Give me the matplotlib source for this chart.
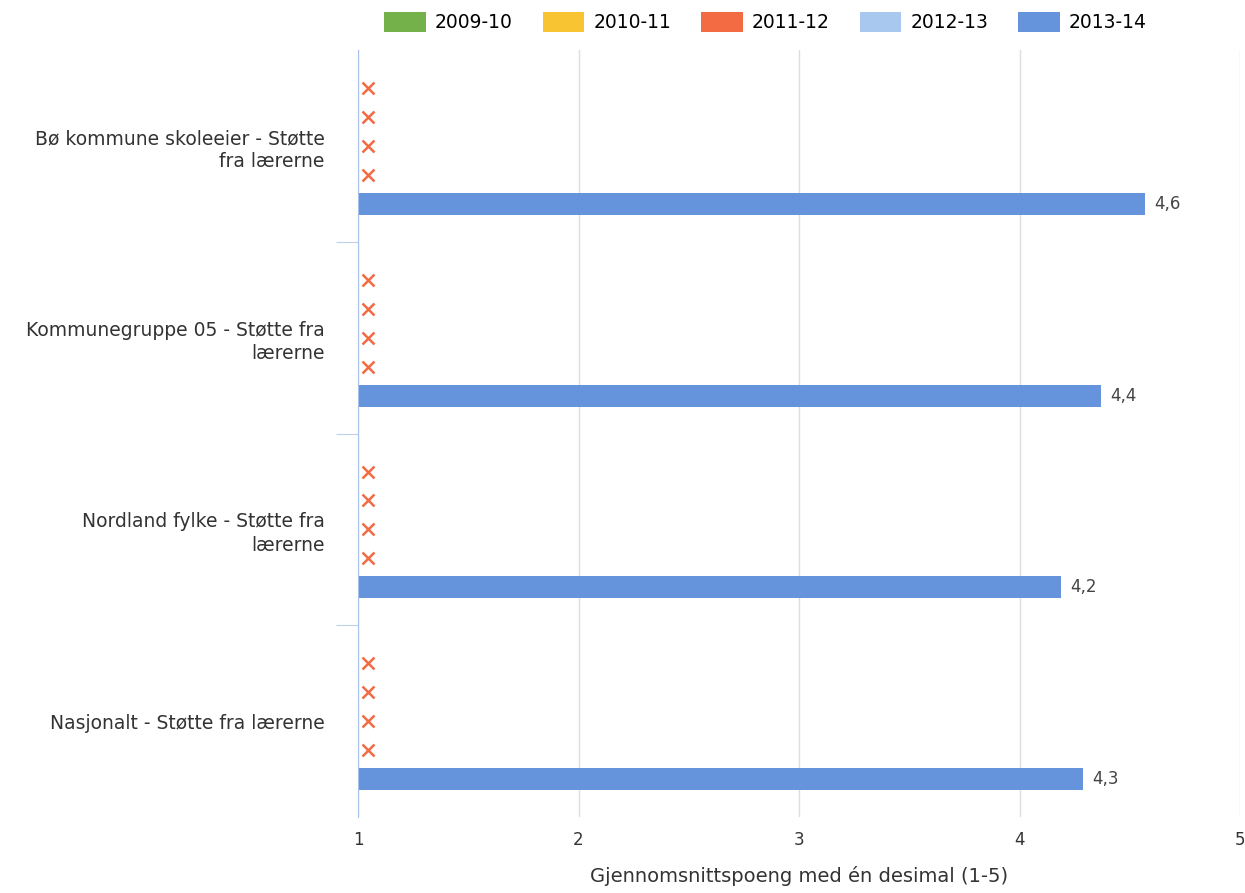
import numpy as np
import matplotlib.pyplot as plt
from matplotlib.patches import Patch

# Data (None = no data for that year)
categories = ['Bø kommune skoleeier - Støtte\nfra lærerne',
              'Kommunegruppe 05 - Støtte fra\nlærerne',
              'Nordland fylke - Støtte fra\nlærerne',
              'Nasjonalt - Støtte fra lærerne']
years = ['2009-10', '2010-11', '2011-12', '2012-13', '2013-14']
v_2009 = [None, None, None, None]
v_2010 = [None, None, None, None]
v_2011 = [None, None, None, None]
v_2012 = [None, None, None, None]
v_2013 = [4.57, 4.37, 4.19, 4.29]
series = [v_2009, v_2010, v_2011, v_2012, v_2013]

colors = ['#74b14a', '#f8c431', '#f26b43', '#a9c8f0', '#6593dc']
missing_color = '#f26b43'

fig = plt.figure(figsize=(12.45, 8.93), dpi=100)
ax = fig.add_axes([0.2876, 0.085, 0.7084, 0.859])

slot = 0.151
bar_h = 0.115
for j, vals in enumerate(series):
    for i, v in enumerate(vals):
        y = i + (j - 2) * slot
        if v is None:
            ax.plot(1.045, y, marker='x', color=missing_color, markersize=8,
                    markeredgewidth=1.8, linestyle='none', zorder=3)
        else:
            ax.barh(y, v - 1, left=1, height=bar_h, color=colors[j], zorder=2)
            ax.text(v + 0.04, y, f'{v:.1f}'.replace('.', ','), va='center',
                    ha='left', fontsize=12, color='#444444')

ax.set_xlim(1, 5)
ax.set_ylim(3.5, -0.5)
ax.set_xticks([1, 2, 3, 4, 5])
ax.set_xticklabels(['1', '2', '3', '4', '5'], fontsize=12, color='#333333')
ax.tick_params(axis='x', length=0, pad=10)
ax.grid(axis='x', color='#dddddd', linewidth=1, zorder=0)

ax.set_yticks([0.5, 1.5, 2.5])
ax.set_yticklabels([])
ax.set_yticks(range(4), minor=True)
ax.set_yticklabels(categories, minor=True, fontsize=13.5, color='#333333',
                   linespacing=1.3)
ax.tick_params(axis='y', which='minor', length=0, pad=24)
ax.tick_params(axis='y', which='major', length=16, color='#c0d0e8')

for s in ['top', 'right', 'bottom']:
    ax.spines[s].set_visible(False)
ax.spines['left'].set_color('#a9c0e8')

ax.set_xlabel('Gjennomsnittspoeng med én desimal (1-5)', fontsize=14,
              color='#333333', labelpad=12)

handles = [Patch(facecolor=c, label=y) for c, y in zip(colors, years)]
fig.legend(handles=handles, loc='upper center', bbox_to_anchor=(0.615, 1.005),
           ncol=5, frameon=False, fontsize=13.5, handlelength=2.2,
           handleheight=1.2, handletextpad=0.5, columnspacing=1.6)

fig.savefig('out.png', dpi=100)
